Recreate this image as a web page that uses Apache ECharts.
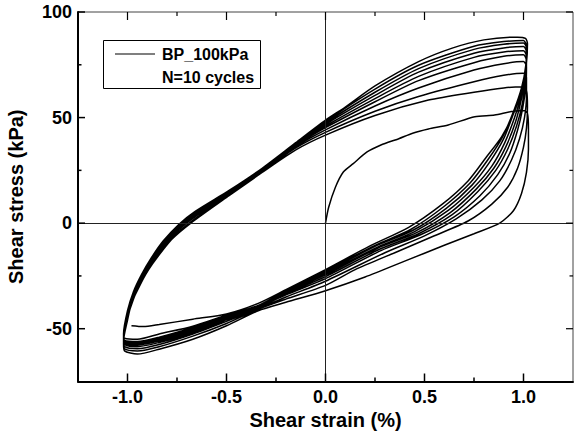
<!DOCTYPE html>
<html>
<head>
<meta charset="utf-8">
<script src="https://cdn.jsdelivr.net/npm/echarts@6/dist/echarts.min.js"></script>
<style>
  html, body { margin: 0; padding: 0; background: #fff; }
  #chart { width: 575px; height: 434px; }
</style>
</head>
<body>
<div id="chart"></div>
<script>
// Axis ticks and labels
const xMajorTicks = [-1.0, -0.5, 0.0, 0.5, 1.0];
const xMinorTicks = [-0.75, -0.25, 0.25, 0.75];
const yMajorTicks = [-50, 0, 50, 100];
const yMinorTicks = [-25, 25, 75];

const seriesName = 'BP_100kPa';
const cycleNote = 'N=10 cycles';

// Shear strain (%), shear stress (kPa): initial loading, then unloading / reloading branches
const load0 = [[0,0],[0.016,7.5],[0.05,17],[0.09,24.2],[0.14,28.2],[0.21,33.7],[0.28,37],[0.37,40],[0.44,42.6],[0.52,44.6],[0.62,46.5],[0.754,50.4],[0.854,51.2],[0.971,53.2],[1.005,53.2]];
const unload1 = [[1.02,52],[1.025,45],[1.025,35],[1.015,24],[0.99,14],[0.95,6],[0.88,0],[0.75,-5],[0.6,-10.5],[0.4,-18],[0.2,-25.5],[0,-32],[-0.2,-37.5],[-0.34,-41.5],[-0.5,-48.6],[-0.67,-55],[-0.84,-59.7],[-0.95,-62],[-1.015,-60.5]];
const reload1 = [[-1.02,-57],[-1.01,-48],[-0.99,-40],[-0.96,-32],[-0.92,-25],[-0.86,-17],[-0.78,-8],[-0.68,0],[-0.487,13],[-0.32,24],[-0.152,34.6],[0,41.7],[0.25,51],[0.52,58.3],[0.75,62],[0.9,64],[0.99,64.6]];
const unload2 = [[1.015,63],[1.02,55],[1.015,45],[1.0,36],[0.97,26],[0.92,17],[0.84,9],[0.72,1],[0.55,-6],[0.35,-14],[0.15,-22],[0,-29.5],[-0.2,-36],[-0.34,-40.8],[-0.5,-47.5],[-0.67,-53.5],[-0.84,-58.5],[-0.95,-60.5],[-1.015,-59.5]];
const reload2 = [[-1.02,-56],[-1.0,-46],[-0.98,-38],[-0.94,-30],[-0.9,-23],[-0.84,-15],[-0.76,-6],[-0.67,1],[-0.487,13.5],[-0.32,24.5],[-0.152,35.5],[0,43],[0.25,53],[0.47,60],[0.75,67],[0.9,70],[1.0,71]];
const unload3 = [[1.015,69],[1.015,60],[1.005,50],[0.98,40],[0.94,30],[0.88,20],[0.79,11],[0.66,2],[0.5,-6],[0.3,-14],[0,-27.5],[-0.2,-35],[-0.34,-40.5],[-0.5,-46.5],[-0.67,-52.5],[-0.84,-57.5],[-0.95,-59.5],[-1.015,-58.5]];
const reload3 = [[-1.02,-55.5],[-1.0,-45],[-0.97,-36],[-0.93,-28],[-0.88,-20],[-0.82,-12],[-0.74,-4],[-0.66,2],[-0.487,14],[-0.32,25],[-0.152,36.2],[0,44.2],[0.25,55.5],[0.47,64],[0.75,72.5],[0.9,75.5],[1.0,76.5]];
const unload4 = [[1.015,74],[1.012,65],[0.995,54],[0.97,44],[0.93,33],[0.87,23],[0.78,13],[0.65,3],[0.48,-5.5],[0.28,-13],[0,-26.3],[-0.2,-34],[-0.34,-40],[-0.5,-45.8],[-0.67,-52],[-0.84,-56.5],[-0.95,-58.5],[-1.015,-57.5]];
const reload4 = [[-1.02,-55],[-1.0,-44],[-0.97,-35],[-0.93,-27],[-0.88,-19],[-0.82,-11],[-0.74,-3],[-0.66,3],[-0.487,14.2],[-0.32,25.2],[-0.152,36.7],[0,45.2],[0.25,57.5],[0.47,67.5],[0.75,76],[0.9,79],[1.0,79.7]];
const unload5 = [[1.015,77],[1.012,68],[0.995,57],[0.965,46],[0.92,35],[0.86,25],[0.77,15],[0.64,4],[0.47,-5],[0.27,-12.5],[0,-25.3],[-0.2,-33.5],[-0.34,-39.8],[-0.5,-45.2],[-0.67,-51.3],[-0.84,-55.8],[-0.95,-57.8],[-1.015,-57]];
const reload5 = [[-1.02,-54.5],[-1.0,-43.5],[-0.97,-34.5],[-0.93,-26.5],[-0.88,-18.5],[-0.82,-10.5],[-0.74,-2.5],[-0.66,3.5],[-0.487,14.5],[-0.32,25.5],[-0.152,37],[0,46],[0.25,59],[0.47,69.5],[0.75,78.5],[0.9,81],[1.0,81.7]];
const unload6 = [[1.015,79],[1.012,70],[0.99,59],[0.96,48],[0.91,36],[0.85,26],[0.76,16],[0.63,5],[0.46,-4.5],[0.26,-12],[0,-24.5],[-0.2,-33],[-0.34,-39.6],[-0.5,-44.8],[-0.67,-50.6],[-0.84,-55.2],[-0.95,-57.2],[-1.015,-56.5]];
const reload6 = [[-1.02,-54],[-1.0,-43],[-0.97,-34],[-0.93,-26],[-0.88,-18],[-0.82,-10],[-0.74,-2],[-0.66,4],[-0.487,14.8],[-0.32,25.7],[-0.152,37.3],[0,46.8],[0.25,60.5],[0.47,71.5],[0.75,80.5],[0.9,83],[1.0,83.7]];
const unload7 = [[1.015,81],[1.012,72],[0.99,61],[0.955,50],[0.905,38],[0.84,27],[0.75,17],[0.62,6],[0.45,-4],[0.26,-11.5],[0,-23.8],[-0.2,-32.6],[-0.34,-39.4],[-0.5,-44.3],[-0.67,-50],[-0.84,-54.6],[-0.95,-56.6],[-1.015,-56]];
const reload7 = [[-1.02,-53.5],[-1.0,-42.5],[-0.97,-33.5],[-0.93,-25.5],[-0.88,-17.5],[-0.82,-9.5],[-0.74,-1.5],[-0.66,4.5],[-0.487,15],[-0.32,25.8],[-0.152,37.6],[0,47.5],[0.25,62],[0.47,73.2],[0.75,82.3],[0.9,84.7],[1.0,85.3]];
const unload8 = [[1.015,83],[1.012,74],[0.99,63],[0.95,52],[0.9,40],[0.83,29],[0.74,18],[0.61,7],[0.44,-3.5],[0.25,-11],[0,-23.2],[-0.2,-32.3],[-0.34,-39.2],[-0.5,-43.9],[-0.67,-49.4],[-0.84,-54],[-0.95,-56],[-1.015,-55.5]];
const reload8 = [[-1.02,-53],[-1.0,-42],[-0.97,-33],[-0.93,-25],[-0.88,-17],[-0.82,-9],[-0.74,-1],[-0.66,5],[-0.487,15.2],[-0.32,25.9],[-0.152,37.8],[0,48.2],[0.25,63.5],[0.47,74.8],[0.75,83.8],[0.9,86],[1.0,86.5]];
const unload9 = [[1.015,84],[1.012,75],[0.99,64],[0.95,53],[0.895,41],[0.82,30],[0.73,19],[0.6,8],[0.43,-3],[0.25,-10.5],[0,-22.6],[-0.2,-32],[-0.34,-39],[-0.5,-43.5],[-0.67,-48.8],[-0.84,-52.5],[-0.95,-55],[-1.015,-54.5]];
const reload9 = [[-1.02,-52.5],[-1.0,-41.5],[-0.97,-32.5],[-0.93,-24.5],[-0.88,-16.5],[-0.82,-8.5],[-0.74,-0.5],[-0.66,5.5],[-0.487,15.5],[-0.32,26],[-0.152,38],[0,48.8],[0.1,55],[0.25,65],[0.47,76.5],[0.64,82.9],[0.8,86.8],[0.97,88.1],[1.01,87.5]];
const unload10 = [[1.02,85],[1.015,76],[0.995,64],[0.95,52],[0.89,41],[0.81,31],[0.72,20],[0.59,9],[0.42,-2],[0.22,-11],[0,-22],[-0.2,-31.5],[-0.34,-38],[-0.5,-43],[-0.67,-45.5],[-0.84,-48],[-0.92,-49],[-0.98,-48.6]];

const branches = [load0, unload1, reload1, unload2, reload2, unload3, reload3, unload4, reload4,
  unload5, reload5, unload6, reload6, unload7, reload7, unload8, reload8, unload9, reload9, unload10];
const path = [].concat(...branches);

const X_MIN = -1.25, X_MAX = 1.25, Y_MIN = -75, Y_MAX = 100;

const FONT = 'Liberation Sans, Arial, Helvetica, sans-serif';
const chart = echarts.init(document.getElementById('chart'), null, { renderer: 'svg' });

chart.setOption({
  animation: false,
  backgroundColor: '#fff',
  grid: { left: 78, right: 2, top: 12, bottom: 52.5, containLabel: false, outerBoundsMode: 'none',
    show: true, borderColor: '#444', borderWidth: 1, backgroundColor: 'transparent' },
  xAxis: {
    type: 'value', min: X_MIN, max: X_MAX, splitLine: { show: false },
    position: 'bottom',
    name: 'Shear strain (%)', nameLocation: 'middle', nameGap: 28,
    nameTextStyle: { fontFamily: FONT, fontWeight: 'bold', fontSize: 20, color: '#000' },
    axisLine: { show: true, onZero: false, lineStyle: { color: '#000', width: 2 } },
    axisTick: { show: false },
    axisLabel: { customValues: xMajorTicks, margin: 6, formatter: v => v.toFixed(1),
      fontFamily: FONT, fontWeight: 'bold', fontSize: 18, color: '#000' }
  },
  yAxis: {
    type: 'value', min: Y_MIN, max: Y_MAX, splitLine: { show: false },
    position: 'left',
    name: 'Shear stress (kPa)', nameLocation: 'middle', nameGap: 52,
    nameTextStyle: { fontFamily: FONT, fontWeight: 'bold', fontSize: 20, color: '#000' },
    axisLine: { show: true, onZero: false, lineStyle: { color: '#000', width: 2 } },
    axisTick: { show: false },
    axisLabel: { customValues: yMajorTicks, margin: 6,
      fontFamily: FONT, fontWeight: 'bold', fontSize: 18, color: '#000' }
  },
  graphic: [
    { id: 'legendBox', type: 'rect', left: 103, top: 40, shape: { width: 157, height: 48 },
      style: { fill: '#fff', stroke: '#000', lineWidth: 1 }, z: 100 },
    { id: 'legendLine', type: 'line', shape: { x1: 115, y1: 54, x2: 155, y2: 54 },
      style: { stroke: '#000', lineWidth: 1.2 }, z: 101 },
    { id: 'legendName', type: 'text', x: 162, y: 54, z: 101,
      style: { text: seriesName, fontFamily: FONT, fontWeight: 'bold', fontSize: 16, fill: '#000', verticalAlign: 'middle' } },
    { id: 'legendNote', type: 'text', x: 162, y: 77, z: 101,
      style: { text: cycleNote, fontFamily: FONT, fontWeight: 'bold', fontSize: 16, fill: '#000', verticalAlign: 'middle' } }
  ],
  series: [{
    name: seriesName,
    type: 'line',
    data: path,
    showSymbol: false, symbol: 'none',
    smooth: 0.25,
    lineStyle: { color: '#000', width: 1.5 },
    silent: true,
    markLine: {
      silent: true, symbol: 'none', animation: false,
      label: { show: false },
      lineStyle: { color: '#222', width: 1, type: 'solid' },
      data: [{ xAxis: 0 }, { yAxis: 0 }]
    }
  }]
});

// Inward tick marks on all four sides of the frame, placed through the axis scales.
const xLeft = chart.convertToPixel({ xAxisIndex: 0 }, X_MIN);
const xRight = chart.convertToPixel({ xAxisIndex: 0 }, X_MAX);
const yBottom = chart.convertToPixel({ yAxisIndex: 0 }, Y_MIN);
const yTop = chart.convertToPixel({ yAxisIndex: 0 }, Y_MAX);
const tickEls = [];
function addXTicks(values, len) {
  values.forEach((v, i) => {
    const px = chart.convertToPixel({ xAxisIndex: 0 }, v);
    tickEls.push({ id: 'xb' + len + '_' + i, type: 'line', silent: true, z: 50,
      shape: { x1: px, y1: yBottom, x2: px, y2: yBottom - len }, style: { stroke: '#000', lineWidth: 1.5 } });
    tickEls.push({ id: 'xt' + len + '_' + i, type: 'line', silent: true, z: 50,
      shape: { x1: px, y1: yTop, x2: px, y2: yTop + len }, style: { stroke: '#000', lineWidth: 1.2 } });
  });
}
function addYTicks(values, len) {
  values.forEach((v, i) => {
    const py = chart.convertToPixel({ yAxisIndex: 0 }, v);
    tickEls.push({ id: 'yl' + len + '_' + i, type: 'line', silent: true, z: 50,
      shape: { x1: xLeft, y1: py, x2: xLeft + len, y2: py }, style: { stroke: '#000', lineWidth: 1.5 } });
    tickEls.push({ id: 'yr' + len + '_' + i, type: 'line', silent: true, z: 50,
      shape: { x1: xRight, y1: py, x2: xRight - len, y2: py }, style: { stroke: '#000', lineWidth: 1.2 } });
  });
}
addXTicks(xMajorTicks, 8);
addXTicks(xMinorTicks, 4);
addYTicks(yMajorTicks, 7);
addYTicks(yMinorTicks, 3.5);
chart.setOption({ graphic: tickEls });
</script>
</body>
</html>
